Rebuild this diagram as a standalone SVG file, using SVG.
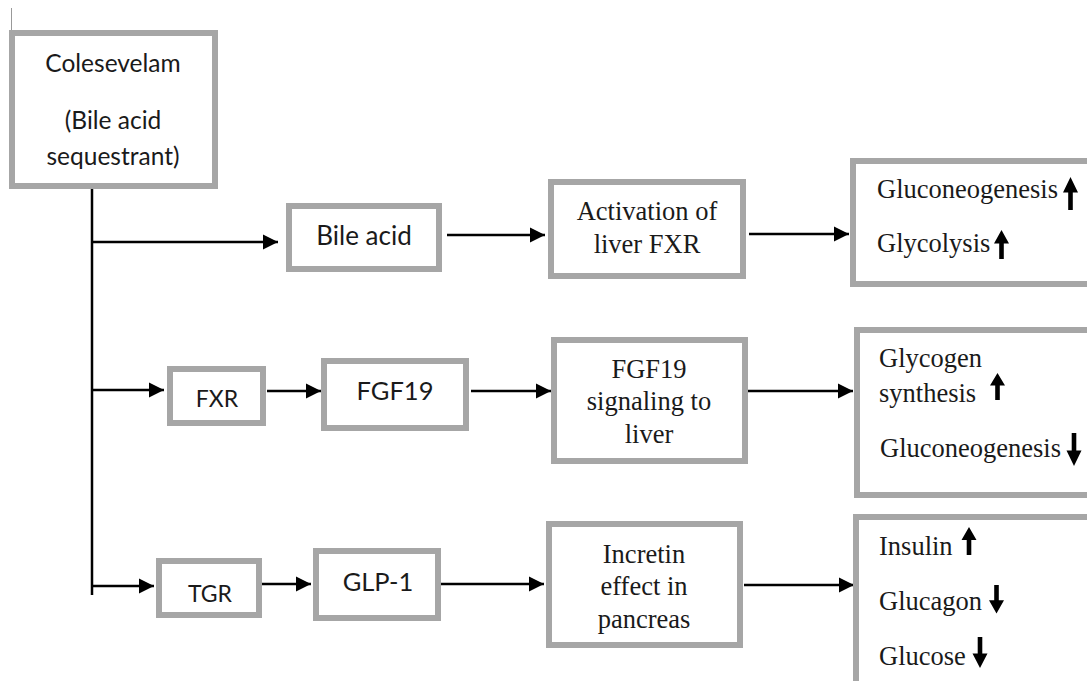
<svg xmlns="http://www.w3.org/2000/svg" width="1087" height="681" viewBox="0 0 1087 681">
<style>
.box{fill:#fff;stroke:#a6a6a6;stroke-width:6}
.sans{font-family:Lato,"Liberation Sans",sans-serif;fill:#1a1a1a;text-anchor:middle}
.serif{font-family:"Liberation Serif","Times New Roman",serif;font-size:26.5px;fill:#1a1a1a}
.mid{text-anchor:middle}
.conn line{stroke:#000;stroke-width:2.5;fill:none}
.arr{marker-end:url(#ah)}
</style>
<defs>
<marker id="ah" markerUnits="userSpaceOnUse" markerWidth="16" markerHeight="16" viewBox="0 0 16 16" refX="15" refY="8" orient="auto">
<path d="M0,0.5 L15,8 L0,15.5 Z" fill="#000"/>
</marker>
<path id="up" d="M0,0 L7.5,14 L2.3,14 L2.3,30 L-2.3,30 L-2.3,14 L-7.5,14 Z" fill="#000"/>
<path id="down" d="M0,30 L7.5,16 L2.3,16 L2.3,0 L-2.3,0 L-2.3,16 L-7.5,16 Z" fill="#000"/>
</defs>
<rect width="1087" height="681" fill="#fff"/>
<line x1="11.5" y1="8" x2="11.5" y2="48" stroke="#999" stroke-width="1"/>

<g id="connectors" class="conn">
<line x1="92" y1="188" x2="92" y2="595"/>
<line class="arr" x1="92" y1="242" x2="278" y2="242"/>
<line class="arr" x1="447" y1="235" x2="545" y2="235"/>
<line class="arr" x1="749" y1="234" x2="849" y2="234"/>
<line class="arr" x1="92" y1="390" x2="164" y2="390"/>
<line class="arr" x1="267" y1="391" x2="321" y2="391"/>
<line class="arr" x1="471" y1="391" x2="551" y2="391"/>
<line class="arr" x1="748" y1="391" x2="853" y2="391"/>
<line class="arr" x1="92" y1="586" x2="154" y2="586"/>
<line class="arr" x1="262" y1="584" x2="311" y2="584"/>
<line class="arr" x1="441" y1="584" x2="544" y2="584"/>
<line class="arr" x1="744" y1="585" x2="854" y2="585"/>
</g>

<g id="colesevelam">
<rect class="box" x="12" y="33" width="203" height="153"/>
<text class="sans" x="113" y="72" font-size="24.5">Colesevelam</text>
<text class="sans" x="113" y="129" font-size="24.5">(Bile acid</text>
<text class="sans" x="113" y="165" font-size="24.5">sequestrant)</text>
</g>

<g id="bile-acid">
<rect class="box" x="289" y="206" width="150" height="63"/>
<text class="sans" x="364" y="245" font-size="26">Bile acid</text>
</g>

<g id="activation">
<rect class="box" x="551" y="182" width="192" height="94"/>
<text class="serif mid" x="647" y="220">Activation of</text>
<text class="serif mid" x="647" y="253">liver FXR</text>
</g>

<g id="outcome1">
<rect class="box" x="853" y="161" width="240" height="123"/>
<text class="serif" x="877" y="198">Gluconeogenesis</text>
<use href="#up" transform="translate(1070.5,177) scale(1,1.1)"/>
<text class="serif" x="877" y="252">Glycolysis</text>
<use href="#up" transform="translate(1001.5,230) scale(1,0.97)"/>
</g>

<g id="fxr">
<rect class="box" x="170" y="369" width="93" height="54"/>
<text class="sans" x="217" y="407" font-size="23">FXR</text>
</g>

<g id="fgf19">
<rect class="box" x="324" y="361" width="142" height="67"/>
<text class="sans" x="395" y="400" font-size="25.5">FGF19</text>
</g>

<g id="fgf19-signaling">
<rect class="box" x="554" y="340" width="191" height="121"/>
<text class="serif mid" x="649" y="378">FGF19</text>
<text class="serif mid" x="649" y="410">signaling to</text>
<text class="serif mid" x="649" y="443">liver</text>
</g>

<g id="outcome2">
<rect class="box" x="857" y="330" width="240" height="165"/>
<text class="serif" x="879" y="367">Glycogen</text>
<text class="serif" x="879" y="402">synthesis</text>
<use href="#up" transform="translate(997.5,373) scale(1,0.9)"/>
<text class="serif" x="880" y="457">Gluconeogenesis</text>
<use href="#down" transform="translate(1074,433) scale(1,1.1)"/>
</g>

<g id="tgr">
<rect class="box" x="159" y="561" width="100" height="54"/>
<text class="sans" x="210" y="601.5" font-size="23">TGR</text>
</g>

<g id="glp1">
<rect class="box" x="316" y="551" width="122" height="67"/>
<text class="sans" x="378" y="591" font-size="25.5">GLP-1</text>
</g>

<g id="incretin">
<rect class="box" x="549" y="524" width="191" height="121"/>
<text class="serif mid" x="644" y="562.5">Incretin</text>
<text class="serif mid" x="644" y="595">effect in</text>
<text class="serif mid" x="644" y="627.5">pancreas</text>
</g>

<g id="outcome3">
<rect class="box" x="856" y="517" width="240" height="200"/>
<text class="serif" x="879" y="555">Insulin</text>
<use href="#up" transform="translate(969,527) scale(1,0.93)"/>
<text class="serif" x="879" y="610">Glucagon</text>
<use href="#down" transform="translate(996.5,585) scale(1,0.95)"/>
<text class="serif" x="879" y="665">Glucose</text>
<use href="#down" transform="translate(980,637) scale(1,1.03)"/>
</g>
</svg>
